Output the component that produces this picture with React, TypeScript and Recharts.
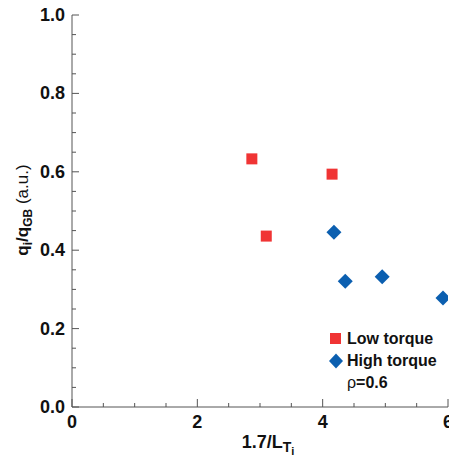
import { ScatterChart, Scatter, XAxis, YAxis, Label } from "recharts";

const FONT = "'Liberation Sans Narrow', 'Arial Narrow', 'Liberation Sans', Arial, sans-serif";
const RED = "#f03434";
const BLUE = "#0b5fb0";
const AXIS = "#555555";

// Low torque (squares)
const lowX = [2.87, 3.1, 4.15];
const lowY = [0.633, 0.436, 0.594];
// High torque (diamonds)
const highX = [4.18, 4.36, 4.95, 5.92];
const highY = [0.446, 0.321, 0.332, 0.278];

const xTicks = [0, 0.5, 1, 1.5, 2, 2.5, 3, 3.5, 4, 4.5, 5, 5.5, 6];
const xLabels = [0, 2, 4, 6];
const yTicks = [0, 0.05, 0.1, 0.15, 0.2, 0.25, 0.3, 0.35, 0.4, 0.45, 0.5, 0.55, 0.6, 0.65, 0.7, 0.75, 0.8, 0.85, 0.9, 0.95, 1];
const yLabels = [0, 0.2, 0.4, 0.6, 0.8, 1];

const low = lowX.map((x, i) => ({ x, y: lowY[i] }));
const high = highX.map((x, i) => ({ x, y: highY[i] }));

const isMajor = (list: number[], v: number) => list.some((m) => Math.abs(m - v) < 1e-6);

function BottomTick({ x, y, payload }: any) {
  const major = isMajor(xLabels, payload.value);
  return (
    <g>
      <line x1={x} x2={x} y1={y} y2={y - (major ? 8 : 4)} stroke={AXIS} />
      {major && (
        <text x={x} y={y + 21} textAnchor="middle" fontFamily={FONT} fontWeight="bold" fontSize={18} fill="#111">
          {payload.value}
        </text>
      )}
    </g>
  );
}

function TopTick({ x, y, payload }: any) {
  const major = isMajor(xLabels, payload.value);
  return <line x1={x} x2={x} y1={y} y2={y + (major ? 8 : 4)} stroke={AXIS} />;
}

function LeftTick({ x, y, payload }: any) {
  const major = isMajor(yLabels, payload.value);
  return (
    <g>
      <line x1={x} x2={x + (major ? 7 : 4)} y1={y} y2={y} stroke={AXIS} />
      {major && (
        <text x={x - 7} y={y + 6} textAnchor="end" fontFamily={FONT} fontWeight="bold" fontSize={18} fill="#111">
          {payload.value.toFixed(1)}
        </text>
      )}
    </g>
  );
}

function RightTick({ x, y, payload }: any) {
  const major = isMajor(yLabels, payload.value);
  return <line x1={x} x2={x - (major ? 7 : 4)} y1={y} y2={y} stroke={AXIS} />;
}

const Square = ({ cx, cy }: any) => <rect x={cx - 5.5} y={cy - 5.5} width={11} height={11} fill={RED} />;
const Diamond = ({ cx, cy }: any) => (
  <polygon points={`${cx},${cy - 7.5} ${cx + 7.5},${cy} ${cx},${cy + 7.5} ${cx - 7.5},${cy}`} fill={BLUE} />
);

export default function App() {
  return (
    <div style={{ position: "absolute", left: 0, top: 0, width: 449, height: 459, overflow: "hidden", background: "#fff" }}>
      <ScatterChart width={470} height={459} margin={{ top: 15, right: 22, bottom: 0, left: 0 }}>
        <XAxis
          xAxisId="b"
          dataKey="x"
          type="number"
          domain={[0, 6]}
          ticks={xTicks}
          interval={0}
          height={52}
          tickSize={0}
          tickMargin={0}
          tickLine={false}
          tick={<BottomTick />}
          stroke={AXIS}
          allowDataOverflow
        >
          <Label
            content={({ viewBox }: any) => (
              <text x={viewBox.x + viewBox.width / 2 + 8} y={448} textAnchor="middle" fontFamily={FONT} fontWeight="bold" fontSize={18} fill="#111">
                1.7/L
                <tspan dy={4} fontSize={14}>T</tspan>
                <tspan dy={3} fontSize={11}>i</tspan>
              </text>
            )}
          />
        </XAxis>
        <XAxis
          xAxisId="t"
          orientation="top"
          dataKey="x"
          type="number"
          domain={[0, 6]}
          ticks={xTicks}
          interval={0}
          height={0}
          tickSize={0}
          tickMargin={0}
          tickLine={false}
          tick={<TopTick />}
          stroke={AXIS}
          allowDataOverflow
        />
        <YAxis
          yAxisId="l"
          dataKey="y"
          type="number"
          domain={[0, 1]}
          ticks={yTicks}
          interval={0}
          width={72}
          tickSize={0}
          tickMargin={0}
          tickLine={false}
          tick={<LeftTick />}
          stroke={AXIS}
          allowDataOverflow
        >
          <Label
            content={({ viewBox }: any) => (
              <text
                x={0}
                y={0}
                transform={`translate(28, ${viewBox.y + viewBox.height / 2 - 1}) rotate(-90)`}
                textAnchor="middle"
                fontFamily={FONT}
                fontSize={17}
                fill="#111"
              >
                <tspan fontWeight="bold">q</tspan>
                <tspan fontWeight="bold" dy={4} fontSize={12}>i</tspan>
                <tspan fontWeight="bold" dy={-4}>/q</tspan>
                <tspan fontWeight="bold" dy={4} fontSize={12}>GB</tspan>
                <tspan dy={-4}> (a.u.)</tspan>
              </text>
            )}
          />
        </YAxis>
        <YAxis
          yAxisId="r"
          orientation="right"
          dataKey="y"
          type="number"
          domain={[0, 1]}
          ticks={yTicks}
          interval={0}
          width={0}
          tickSize={0}
          tickMargin={0}
          tickLine={false}
          tick={<RightTick />}
          stroke={AXIS}
          allowDataOverflow
        />
        <Scatter name="Low torque" data={low} xAxisId="b" yAxisId="l" shape={<Square />} isAnimationActive={false} />
        <Scatter name="High torque" data={high} xAxisId="b" yAxisId="l" shape={<Diamond />} isAnimationActive={false} />
      </ScatterChart>
      <div style={{ position: "absolute", left: 329, top: 328, fontFamily: FONT, fontSize: 16, fontWeight: "bold", color: "#111", lineHeight: "22px" }}>
        <div style={{ display: "flex", alignItems: "center" }}>
          <svg width={18} height={14}>
            <rect x={1} y={1} width={11} height={11} fill={RED} />
          </svg>
          <span>Low torque</span>
        </div>
        <div style={{ display: "flex", alignItems: "center" }}>
          <svg width={18} height={16}>
            <polygon points="7,0.5 14,8 7,15.5 0,8" fill={BLUE} />
          </svg>
          <span>High torque</span>
        </div>
        <div style={{ paddingLeft: 18 }}>
          <span style={{ fontWeight: "normal" }}>ρ</span>=0.6
        </div>
      </div>
    </div>
  );
}
